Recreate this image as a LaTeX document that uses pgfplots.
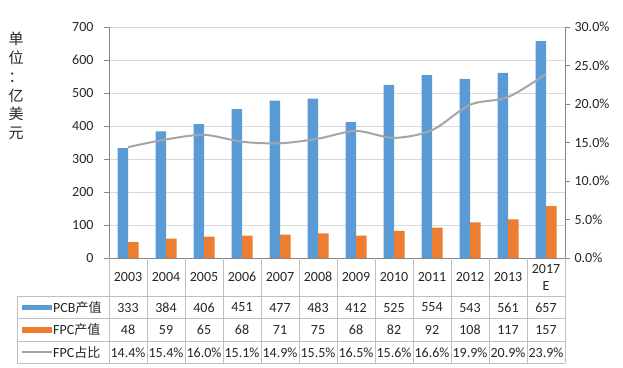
\documentclass[border=0pt]{standalone}
\usepackage{pgfplots}
\pgfplotsset{compat=1.18}
\usepackage{fontspec}
\setmainfont{Carlito}
\newfontfamily\cjk{Noto Sans CJK SC}
\definecolor{pcb}{HTML}{5B9BD5}
\definecolor{fpc}{HTML}{ED7D31}
\definecolor{ratio}{HTML}{A5A5A5}
\definecolor{gridc}{HTML}{D9D9D9}
\definecolor{axc}{HTML}{868686}
\definecolor{tabc}{HTML}{BFBFBF}
\definecolor{txt}{HTML}{262626}
\begin{document}
\begin{tikzpicture}[font=\fontsize{14bp}{16bp}\selectfont, text=txt]
\begin{axis}[
  at={(109bp,-258bp)}, anchor=south west, scale only axis,
  width=456bp, height=231bp,
  xmin=-0.5, xmax=11.5, ymin=0, ymax=700,
  ytick={0,100,200,300,400,500,600,700}, xtick=\empty,
  axis y line*=left, axis x line*=bottom,
  axis line style={axc, line width=0.8bp, -},
  ymajorgrids, grid style={gridc, line width=0.8bp},
  tick align=outside, major tick length=5bp, tick style={axc, line width=0.8bp},
  yticklabel style={font=\fontsize{14bp}{16bp}\selectfont, text=txt, xshift=-7bp},
  /pgf/number format/assume math mode=true,
  ybar=0pt, bar width=10.5bp,
]
\addplot[fill=pcb, draw=none] coordinates {(0,333) (1,384) (2,406) (3,451) (4,477) (5,483) (6,412) (7,525) (8,554) (9,543) (10,561) (11,657)};
\addplot[fill=fpc, draw=none] coordinates {(0,48) (1,59) (2,65) (3,68) (4,71) (5,75) (6,68) (7,82) (8,92) (9,108) (10,117) (11,157)};
\end{axis}
\begin{axis}[
  at={(109bp,-258bp)}, anchor=south west, scale only axis,
  width=456bp, height=231bp,
  xmin=-0.5, xmax=11.5, ymin=0, ymax=0.3,
  axis y line*=right, axis x line=none,
  axis line style={axc, line width=0.8bp, -},
  ytick={0,0.05,0.1,0.15,0.2,0.25,0.3},
  yticklabels={0.0\%,5.0\%,10.0\%,15.0\%,20.0\%,25.0\%,30.0\%},
  tick align=outside, major tick length=5bp, tick style={axc, line width=0.8bp},
  yticklabel style={font=\fontsize{14bp}{16bp}\selectfont, text=txt, xshift=1bp},
]
\addplot[ratio, line width=2bp, smooth] coordinates {(0,0.144) (1,0.154) (2,0.160) (3,0.151) (4,0.149) (5,0.155) (6,0.165) (7,0.156) (8,0.166) (9,0.199) (10,0.209) (11,0.239)};
\end{axis}
\begin{scope}[x=1bp,y=-1bp]
\useasboundingbox (0,0) rectangle (623,367);
\begin{scope}[tabc, line width=0.8bp]
\foreach \k in {0,...,12} \draw (109+38*\k,258) -- (109+38*\k,363);
\foreach \yy in {296,318.5,341,363} \draw (17,\yy) -- (565,\yy);
\draw (17,296) -- (17,363);
\end{scope}
\foreach \v [count=\i from 0] in {2003,2004,2005,2006,2007,2008,2009,2010,2011,2012,2013}
  \node at (128+38*\i,277) {\v};
\node[align=center, font=\fontsize{14bp}{17bp}\selectfont] at (128+38*11,277) {2017\\E};
\foreach \v [count=\i from 0] in {333,384,406,451,477,483,412,525,554,543,561,657}
  \node at (128+38*\i,307.5) {\v};
\foreach \v [count=\i from 0] in {48,59,65,68,71,75,68,82,92,108,117,157}
  \node at (128+38*\i,330) {\v};
\foreach \v [count=\i from 0] in {14.4,15.4,16.0,15.1,14.9,15.5,16.5,15.6,16.6,19.9,20.9,23.9}
  \node at (128+38*\i,352.5) {\v\%};
\fill[pcb] (22,304.5) rectangle (52,310);
\fill[fpc] (22,327) rectangle (52,332.5);
\draw[ratio, line width=2bp] (22,352) -- (52,352);
\node[anchor=west, inner sep=0pt] at (53,307.5) {PCB{\cjk\fontsize{13bp}{15bp}\selectfont 产值}};
\node[anchor=west, inner sep=0pt] at (53,330) {FPC{\cjk\fontsize{13bp}{15bp}\selectfont 产值}};
\node[anchor=west, inner sep=0pt] at (53,352.5) {FPC{\cjk\fontsize{13bp}{15bp}\selectfont 占比}};
\node[align=center, font=\cjk\fontsize{15bp}{18.7bp}\selectfont] at (16,86) {单\\位\\：\\亿\\美\\元};
\end{scope}
\end{tikzpicture}
\end{document}
